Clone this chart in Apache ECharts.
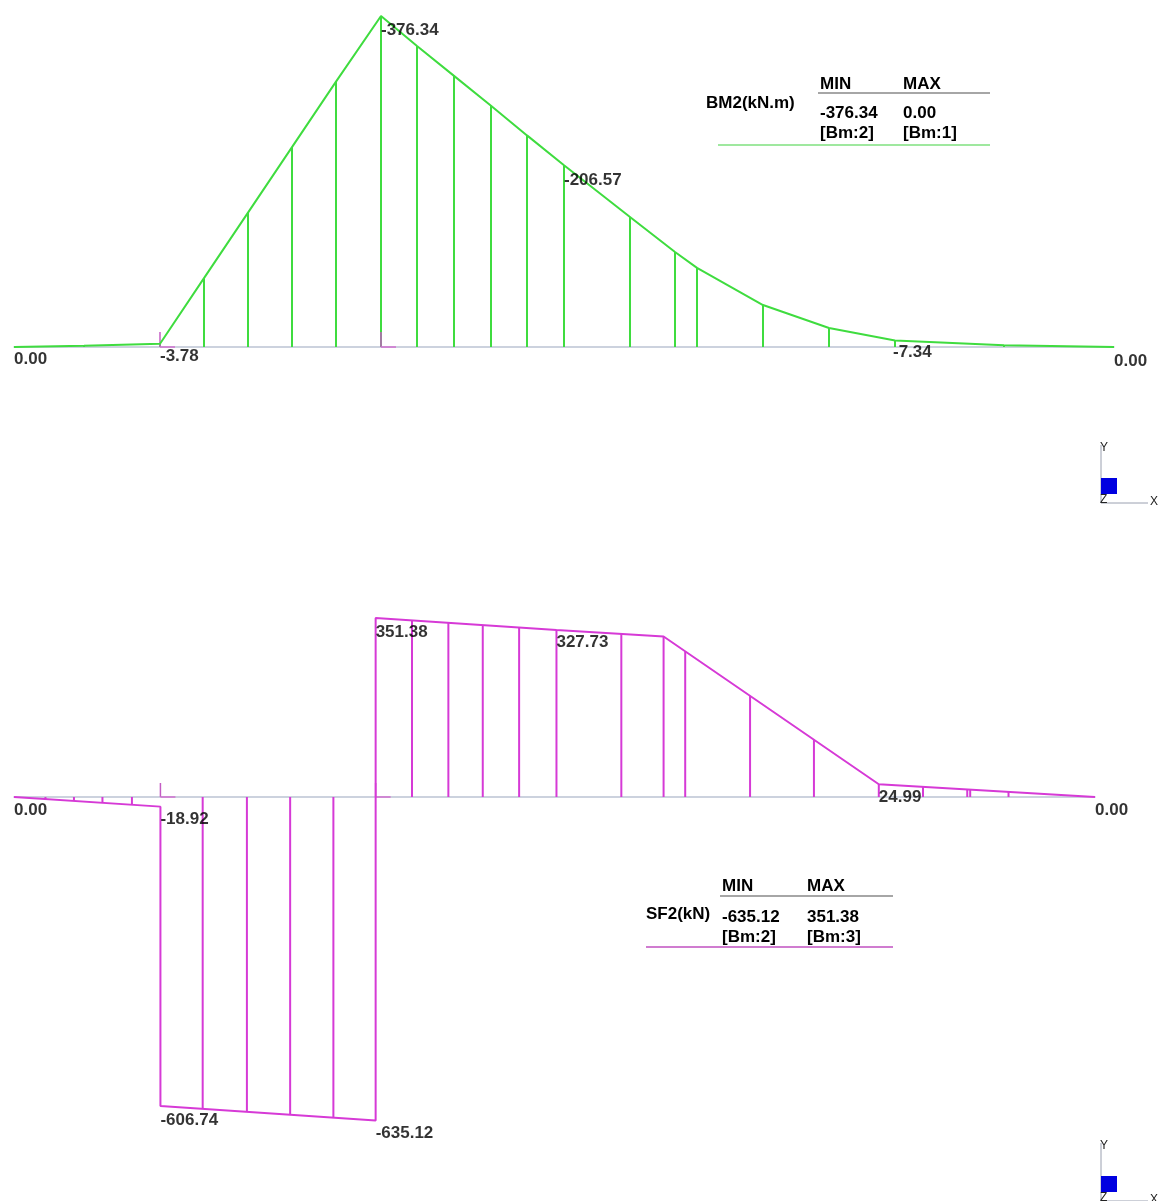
<!DOCTYPE html>
<html>
<head>
<meta charset="utf-8">
<title>BM2 / SF2</title>
<script src="https://cdn.jsdelivr.net/npm/echarts@6/dist/echarts.min.js"></script>
<style>
html, body { margin: 0; padding: 0; background: #fff; }
#chart { width: 1160px; height: 1201px; }
</style>
</head>
<body>
<div id="chart"></div>
<script>
// stations along the beam (m) and bending moment (kN.m)
var bmX = [0, 0.7, 1.46, 1.9, 2.34, 2.78, 3.22, 3.67, 4.03, 4.4, 4.77, 5.13, 5.5, 6.16, 6.61, 6.83, 7.49, 8.15, 8.81, 9.9, 11];
var bmY = [0, -1.5, -3.78, -78.3, -152.8, -227.3, -301.8, -376.34, -342.2, -308.3, -274.3, -240.6, -206.57, -147.8, -108, -90, -47.7, -21.6, -7.34, -2, 0];
var bmLabelX = [0, 1.46, 3.67, 5.5, 8.81, 11];
var bmLabelY = [0, -3.78, -376.34, -206.57, -7.34, 0];
var bmNodeX = [1.46, 3.67];

// shear force (kN), jumps at the supports
var sfX = [0, 1.49, 1.49, 3.68, 3.68, 5.52, 6.61, 8.80, 11];
var sfY = [0, -18.92, -606.74, -635.12, 351.38, 327.73, 315, 24.99, 0];
var sfHatchX = [0.32, 0.61, 0.90, 1.20, 1.92, 2.37, 2.81, 3.25, 4.05, 4.42, 4.77, 5.14, 5.52, 6.18, 6.61, 6.83, 7.49, 8.14, 8.80, 9.25, 9.70, 9.73, 10.12];
var sfHatchY = [-4.1, -7.9, -11.7, -15.5, -612.6, -618.4, -624.1, -629.7, 346.5, 341.8, 337.3, 332.6, 327.73, 320, 315, 285.9, 198.5, 112.4, 24.99, 19.9, 14.8, 14.5, 10];
var sfLabelX = [0, 1.49, 3.68, 5.52, 8.80, 11, 1.49, 3.68];
var sfLabelY = [0, -18.92, 351.38, 327.73, 24.99, 0, -606.74, -635.12];
var sfNodeX = [1.49, 3.68];

var GREEN = '#3fdc3f';
var PINK = '#d63ad6';
var FONT = '"Liberation Sans", Arial, sans-serif';

function zip(xs, ys) {
  return xs.map(function (x, i) { return [x, ys[i]]; });
}

function hatchItem(params, api) {
  var p0 = api.coord([api.value(0), 0]);
  var p1 = api.coord([api.value(0), api.value(1)]);
  return {
    type: 'line',
    shape: { x1: p0[0], y1: p0[1], x2: p1[0], y2: p1[1] },
    style: { stroke: api.visual('color'), lineWidth: 2 }
  };
}

// small node marks on the beam line
function nodeItem(up, down) {
  return function (params, api) {
    var p = api.coord([api.value(0), 0]);
    return {
      type: 'group',
      children: [
        { type: 'line', shape: { x1: p[0], y1: p[1] - up, x2: p[0], y2: p[1] + down }, style: { stroke: '#c45cc4', lineWidth: 1.5 } },
        { type: 'line', shape: { x1: p[0], y1: p[1], x2: p[0] + 15, y2: p[1] }, style: { stroke: '#d070d0', lineWidth: 1.5 } }
      ]
    };
  };
}

var bmOffsets = [[0, 12], [0, 13], [0, 14], [0, 15], [-2, 12], [0, 14]];
var sfOffsets = [[0, 13], [0, 13], [0, 14], [0, 12], [0, 13], [0, 13], [0, 14], [0, 13]];

function labelData(xs, ys, offsets) {
  return xs.map(function (x, i) {
    return { value: [x, ys[i]], label: { offset: offsets[i] } };
  });
}

var labelStyle = {
  show: true,
  position: 'right',
  distance: 0,
  color: '#000',
  fontFamily: FONT,
  fontWeight: 'bold',
  fontSize: 17,
  formatter: function (p) { return p.value[1].toFixed(2); }
};

function txt(x, y, s) {
  return { type: 'text', left: x, top: y, silent: true,
    style: { text: s, fill: '#000', font: 'bold 17px ' + FONT } };
}

function hline(x1, x2, y, color) {
  return { type: 'line', silent: true, shape: { x1: x1, y1: y, x2: x2, y2: y }, style: { stroke: color, lineWidth: 1.5 } };
}

function triad(dy) {
  return [
    { type: 'line', silent: true, shape: { x1: 1101, y1: 445 + dy, x2: 1101, y2: 503 + dy }, style: { stroke: '#9aa0b0', lineWidth: 1 } },
    { type: 'line', silent: true, shape: { x1: 1101, y1: 503 + dy, x2: 1148, y2: 503 + dy }, style: { stroke: '#9aa0b0', lineWidth: 1 } },
    { type: 'rect', silent: true, shape: { x: 1101, y: 478 + dy, width: 16, height: 16 }, style: { fill: '#0000e0' } },
    { type: 'text', silent: true, left: 1100, top: 442 + dy, style: { text: 'Y', fill: '#222', font: '12px ' + FONT } },
    { type: 'text', silent: true, left: 1100, top: 494 + dy, style: { text: 'Z', fill: '#222', font: '12px ' + FONT } },
    { type: 'text', silent: true, left: 1150, top: 496 + dy, style: { text: 'X', fill: '#222', font: '12px ' + FONT } }
  ];
}

var graphics = [
  txt(820, 76, 'MIN'), txt(903, 76, 'MAX'), hline(818, 990, 93, '#888'),
  txt(706, 95, 'BM2(kN.m)'), txt(820, 105, '-376.34'), txt(903, 105, '0.00'),
  txt(820, 125, '[Bm:2]'), txt(903, 125, '[Bm:1]'), hline(718, 990, 145, '#7fe07f'),

  txt(722, 878, 'MIN'), txt(807, 878, 'MAX'), hline(720, 893, 896, '#888'),
  txt(646, 906, 'SF2(kN)'), txt(722, 909, '-635.12'), txt(807, 909, '351.38'),
  txt(722, 929, '[Bm:2]'), txt(807, 929, '[Bm:3]'), hline(646, 893, 947, '#c050c0')
].concat(triad(0), triad(698));

var axisLineStyle = { show: true, onZero: true, lineStyle: { color: '#bcc3d3', width: 1.5 } };

var option = {
  backgroundColor: '#fff',
  animation: false,
  grid: [
    { left: 14, top: 12.8, width: 1100, height: 351.8 },
    { left: 14, top: 613.6, width: 1081, height: 519.6 }
  ],
  xAxis: [
    { gridIndex: 0, type: 'value', min: 0, max: 11, axisLine: axisLineStyle, axisTick: { show: false }, axisLabel: { show: false }, splitLine: { show: false } },
    { gridIndex: 1, type: 'value', min: 0, max: 11, axisLine: axisLineStyle, axisTick: { show: false }, axisLabel: { show: false }, splitLine: { show: false } }
  ],
  yAxis: [
    { gridIndex: 0, type: 'value', min: -380, max: 20, inverse: true, show: false },
    { gridIndex: 1, type: 'value', min: -660, max: 360, show: false }
  ],
  graphic: graphics,
  series: [
    { type: 'line', xAxisIndex: 0, yAxisIndex: 0, data: zip(bmX, bmY), showSymbol: false, silent: true,
      lineStyle: { color: GREEN, width: 2 } },
    { type: 'custom', xAxisIndex: 0, yAxisIndex: 0, data: zip(bmX, bmY), renderItem: hatchItem, silent: true,
      itemStyle: { color: GREEN } },
    { type: 'custom', xAxisIndex: 0, yAxisIndex: 0, data: bmNodeX.map(function (x) { return [x, 0]; }), renderItem: nodeItem(15, 0), silent: true, z: 3 },
    { type: 'scatter', xAxisIndex: 0, yAxisIndex: 0, symbolSize: 0, silent: true, data: labelData(bmLabelX, bmLabelY, bmOffsets), label: labelStyle, z: 5 },

    { type: 'line', xAxisIndex: 1, yAxisIndex: 1, data: zip(sfX, sfY), showSymbol: false, silent: true,
      lineStyle: { color: PINK, width: 2 } },
    { type: 'custom', xAxisIndex: 1, yAxisIndex: 1, data: zip(sfHatchX, sfHatchY), renderItem: hatchItem, silent: true,
      itemStyle: { color: PINK } },
    { type: 'custom', xAxisIndex: 1, yAxisIndex: 1, data: sfNodeX.map(function (x) { return [x, 0]; }), renderItem: nodeItem(14, 0), silent: true, z: 3 },
    { type: 'scatter', xAxisIndex: 1, yAxisIndex: 1, symbolSize: 0, silent: true, data: labelData(sfLabelX, sfLabelY, sfOffsets), label: labelStyle, z: 5 }
  ]
};

var chart = echarts.init(document.getElementById('chart'));
chart.setOption(option);
</script>
</body>
</html>
